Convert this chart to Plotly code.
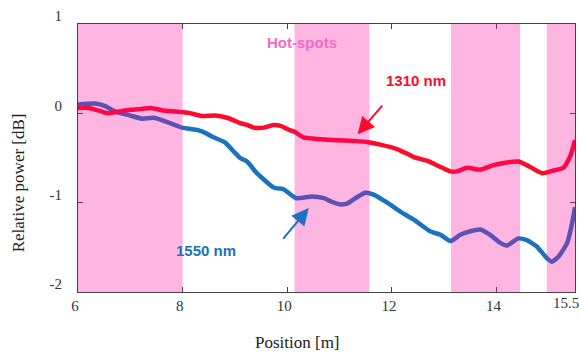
import plotly.graph_objects as go

# Data
x_1310 = [6.0, 6.2, 6.4, 6.56, 6.78, 7.0, 7.22, 7.4, 7.6, 7.86, 8.12, 8.37, 8.63, 8.88, 9.1, 9.23,
          9.36, 9.55, 9.74, 9.87, 10.06, 10.15, 10.31, 10.63, 10.95, 11.27, 11.52, 11.78, 12.1,
          12.32, 12.42, 12.67, 12.93, 13.12, 13.24, 13.44, 13.69, 13.94, 14.2, 14.42, 14.58,
          14.87, 15.09, 15.28, 15.41, 15.5]
y_1310 = [0.06, 0.06, 0.03, 0.0, 0.02, 0.04, 0.05, 0.06, 0.035, 0.02, 0.005, -0.03, -0.025,
          -0.055, -0.11, -0.13, -0.16, -0.16, -0.13, -0.14, -0.19, -0.21, -0.27, -0.29, -0.30,
          -0.31, -0.32, -0.35, -0.40, -0.46, -0.49, -0.53, -0.60, -0.65, -0.65, -0.61, -0.63,
          -0.58, -0.55, -0.54, -0.58, -0.67, -0.64, -0.61, -0.48, -0.30]

x_1550 = [6.0, 6.33, 6.52, 6.71, 6.97, 7.22, 7.45, 7.67, 7.99, 8.31, 8.47, 8.56, 8.82, 8.98,
          9.1, 9.23, 9.42, 9.74, 9.93, 10.0, 10.17, 10.47, 10.7, 10.85, 11.01, 11.14, 11.33,
          11.49, 11.65, 11.91, 12.16, 12.42, 12.73, 12.93, 13.12, 13.31, 13.5, 13.69, 13.88,
          14.07, 14.2, 14.42, 14.58, 14.77, 14.96, 15.06, 15.19, 15.35, 15.43, 15.5]
y_1550 = [0.10, 0.11, 0.08, 0.02, -0.02, -0.06, -0.05, -0.09, -0.16, -0.19, -0.23, -0.26,
          -0.33, -0.43, -0.50, -0.54, -0.67, -0.83, -0.85, -0.88, -0.95, -0.93, -0.95, -0.99,
          -1.02, -1.01, -0.94, -0.89, -0.91, -1.0, -1.10, -1.19, -1.32, -1.36, -1.43, -1.36,
          -1.32, -1.30, -1.36, -1.45, -1.48, -1.40, -1.42, -1.49, -1.62, -1.66, -1.60, -1.45,
          -1.27, -1.05]

hot_start = [6.0, 10.14, 13.13, 14.96]
hot_end = [8.0, 11.57, 14.45, 15.5]

x_ticks = [6, 8, 10, 12, 14, 15.5]
x_tick_text = ["6", "8", "10", "12", "14", ""]   # last label placed as annotation below
last_x_label = "15.5"
y_ticks = [-2, -1, 0, 1]
y_tick_text = ["-2", "-1", "0", "1"]

RED = "#fe0a2a"
BLUE = "#1a72c0"
PINK_TEXT = "#ec6ec8"

fig = go.Figure()
fig.add_trace(go.Scatter(x=x_1550, y=y_1550, mode="lines",
                         line=dict(color=BLUE, width=4.5, shape="spline", smoothing=0.5),
                         showlegend=False))
fig.add_trace(go.Scatter(x=x_1310, y=y_1310, mode="lines",
                         line=dict(color=RED, width=4.5, shape="spline", smoothing=0.5),
                         showlegend=False))

for s, e in zip(hot_start, hot_end):
    fig.add_shape(type="rect", xref="x", yref="paper", x0=s, x1=e, y0=0, y1=1,
                  fillcolor="rgba(255,0,150,0.29)", line=dict(width=0), layer="above")

serif = "Liberation Serif, Times New Roman, serif"
sans = "Liberation Sans, Arial, sans-serif"

fig.add_annotation(x=10.28, y=0.79, text="<b>Hot-spots</b>", showarrow=False,
                   xanchor="center", yanchor="middle",
                   font=dict(family=sans, size=15, color=PINK_TEXT))
fig.add_annotation(x=12.46, y=0.372, text="<b>1310 nm</b>", showarrow=False,
                   xanchor="center", yanchor="middle",
                   font=dict(family=sans, size=15, color=RED))
fig.add_annotation(x=8.45, y=-1.54, text="<b>1550 nm</b>", showarrow=False,
                   xanchor="center", yanchor="middle",
                   font=dict(family=sans, size=15, color=BLUE))
# arrows
fig.add_annotation(x=11.345, y=-0.235, ax=11.84, ay=0.104, axref="x", ayref="y",
                   xref="x", yref="y", text="", showarrow=True, arrowhead=2,
                   arrowsize=1.7, arrowwidth=2, arrowcolor=RED)
fig.add_annotation(x=10.41, y=-1.061, ax=9.90, ay=-1.42, axref="x", ayref="y",
                   xref="x", yref="y", text="", showarrow=True, arrowhead=2,
                   arrowsize=1.7, arrowwidth=2, arrowcolor=BLUE)
# axis titles
fig.add_annotation(x=0.441, y=-0.189, xref="paper", yref="paper", text="Position [m]",
                   xanchor="center", yanchor="middle",
                   showarrow=False, font=dict(family=serif, size=17, color="#222"))
fig.add_annotation(x=-0.118, y=0.407, xref="paper", yref="paper", text="Relative power [dB]",
                   xanchor="center", yanchor="middle",
                   textangle=-90, showarrow=False, font=dict(family=serif, size=17, color="#222"))
# last x tick label, nudged inward as in the reference
fig.add_annotation(x=0.981, y=-0.042, xref="paper", yref="paper", text=last_x_label,
                   xanchor="center", yanchor="middle",
                   showarrow=False, font=dict(family=serif, size=15, color="#333"))

axis_common = dict(showgrid=False, zeroline=False, showline=True, linecolor="#444",
                   linewidth=1, mirror="ticks", ticks="inside", ticklen=5, tickcolor="#444",
                   ticklabeloverflow="allow", automargin=False,
                   tickfont=dict(family=serif, size=15, color="#333"))

fig.update_xaxes(range=[6, 15.5], tickvals=x_ticks, ticktext=x_tick_text,
                 ticklabelshift=-3, **axis_common)
fig.update_yaxes(range=[-2, 1], tickvals=y_ticks, ticktext=y_tick_text,
                 ticklabelshift=-8, ticklabelstandoff=12, **axis_common)

fig.update_layout(width=579, height=352, margin=dict(l=78, r=4, t=24, b=60),
                  plot_bgcolor="white", paper_bgcolor="white")

fig.write_html("out.html")
